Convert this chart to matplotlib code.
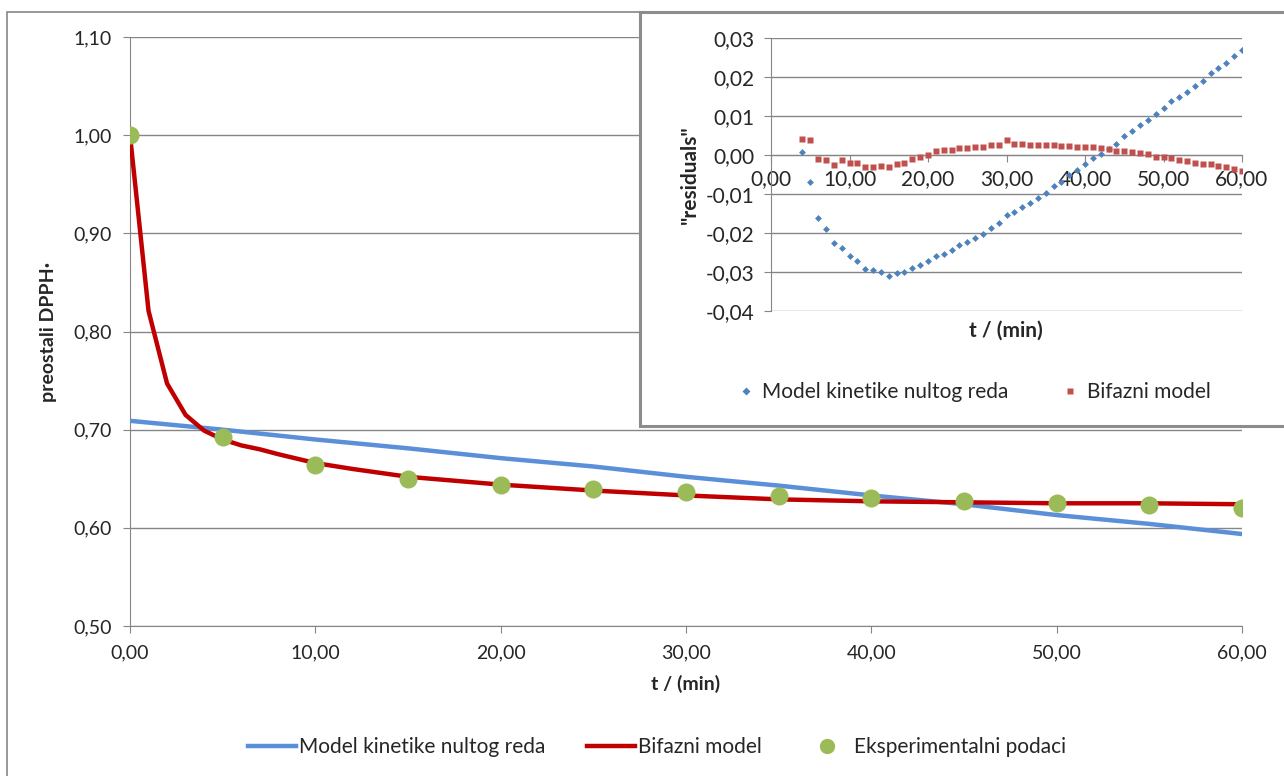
import matplotlib
matplotlib.use("Agg")
import matplotlib.pyplot as plt
from matplotlib.patches import Rectangle
from matplotlib.lines import Line2D
from matplotlib.ticker import FuncFormatter, MultipleLocator

plt.rcParams['font.family'] = ['Lato', 'DejaVu Sans']

# glavni graf: preostali DPPH u vremenu
t_exp = [0, 5, 10, 15, 20, 25, 30, 35, 40, 45, 50, 55, 60]
y_exp = [1.000, 0.693, 0.664, 0.650, 0.6436, 0.6395, 0.6365, 0.632, 0.630, 0.627, 0.625, 0.623, 0.6205]

t_nult = [0, 5, 10, 15, 20, 25, 30, 35, 40, 45, 50, 55, 60]
y_nult = [0.709, 0.700, 0.690, 0.681, 0.671, 0.6625, 0.652, 0.643, 0.633, 0.624, 0.613, 0.604, 0.5937]

t_bif = [0, 1, 2, 3, 4, 5, 6, 7, 8, 10, 12, 15, 20, 25, 30, 35, 40, 45, 50, 55, 60]
y_bif = [1.000, 0.821, 0.747, 0.715, 0.699, 0.690, 0.684, 0.680, 0.675, 0.666, 0.660, 0.652,
         0.644, 0.638, 0.633, 0.629, 0.627, 0.626, 0.625, 0.625, 0.624]

# ostaci (residuals), t = 4..60 min
t_res = list(range(4, 61))
res_nult = [0.0007, -0.0070, -0.0162, -0.0191, -0.0225, -0.0238, -0.0259, -0.0273, -0.0292, -0.0295,
            -0.0301, -0.0309, -0.0303, -0.0301, -0.0291, -0.0282, -0.0273, -0.0259, -0.0254, -0.0244,
            -0.0232, -0.0223, -0.0212, -0.0203, -0.0187, -0.0175, -0.0154, -0.0147, -0.0133, -0.0122,
            -0.0109, -0.0097, -0.0079, -0.0068, -0.0051, -0.0038, -0.0024, -0.0008, 0.0003, 0.0015,
            0.0028, 0.0049, 0.0062, 0.0077, 0.0090, 0.0104, 0.0121, 0.0138, 0.0148, 0.0162,
            0.0176, 0.0190, 0.0210, 0.0223, 0.0236, 0.0254, 0.0269]
res_bif = [0.0041, 0.0038, -0.0010, -0.0013, -0.0025, -0.0013, -0.0021, -0.0021, -0.0032, -0.0030,
           -0.0027, -0.0032, -0.0024, -0.0021, -0.0010, -0.0005, 0.0001, 0.0009, 0.0013, 0.0013,
           0.0018, 0.0018, 0.0021, 0.0021, 0.0026, 0.0026, 0.0038, 0.0029, 0.0029, 0.0026,
           0.0026, 0.0026, 0.0026, 0.0024, 0.0024, 0.0021, 0.0021, 0.0021, 0.0019, 0.0015,
           0.0010, 0.0010, 0.0008, 0.0004, 0.0002, -0.0004, -0.0004, -0.0007, -0.0012, -0.0015,
           -0.0021, -0.0024, -0.0024, -0.0029, -0.0032, -0.0035, -0.0040]

plavo = '#5b8fd8'
crveno = '#c00000'
zeleno = '#9bbb59'
siva = '#868686'
tekst = '#262626'
fs = 14
fs2 = 15

zarez = FuncFormatter(lambda v, pos: f"{v:.2f}".replace('.', ','))

fig = plt.figure(figsize=(12.84, 7.76), dpi=100)

# okvir oko cijelog grafa
fig.add_artist(Rectangle((7 / 1284, -0.01), 1.2, 1 - 12 / 776 + 0.01, transform=fig.transFigure,
                         fill=False, edgecolor=siva, lw=1.2, zorder=0))

ax = fig.add_axes([130 / 1284, 1 - 626 / 776, 1112 / 1284, 589 / 776])
ax.plot(t_nult, y_nult, color=plavo, lw=3.2, zorder=3)
ax.plot(t_bif, y_bif, color=crveno, lw=3.2, zorder=4)
ax.plot(t_exp, y_exp, 'o', color=zeleno, ms=13, mec='none', zorder=5)
ax.set_xlim(0, 60)
ax.set_ylim(0.5, 1.1)
ax.xaxis.set_major_locator(MultipleLocator(10))
ax.yaxis.set_major_locator(MultipleLocator(0.1))
ax.xaxis.set_major_formatter(zarez)
ax.yaxis.set_major_formatter(zarez)
ax.grid(axis='y', color=siva, lw=1)
ax.set_axisbelow(True)
for s in ['top', 'right']:
    ax.spines[s].set_visible(False)
for s in ['left', 'bottom']:
    ax.spines[s].set_color(siva)
ax.tick_params(axis='both', colors=siva, labelcolor=tekst, labelsize=fs, length=5, direction='out')
ax.tick_params(axis='x', pad=8)
ax.tick_params(axis='y', pad=8)
ax.set_xlabel('t / (min)', fontsize=fs, fontweight='bold', color=tekst, labelpad=10)
ax.set_ylabel('preostali DPPH·', fontsize=fs, fontweight='bold', color=tekst, labelpad=12)

handles = [Line2D([], [], color=plavo, lw=3.2),
           Line2D([], [], color=crveno, lw=3.2),
           Line2D([], [], ls='none', marker='o', color=zeleno, ms=11, mec='none')]
fig.legend(handles, ['Model kinetike nultog reda', 'Bifazni model', 'Eksperimentalni podaci'],
           loc='center', bbox_to_anchor=(657 / 1284, 1 - 747 / 776), ncol=3, frameon=False,
           fontsize=15, handlelength=2.3, handletextpad=0.15, columnspacing=2.0, labelcolor=tekst)

# umetnuti graf s ostacima
fig.add_artist(Rectangle((640 / 1284, 1 - 426 / 776), 0.6, 414 / 776, transform=fig.transFigure,
                         facecolor='white', edgecolor='#8c8c8c', lw=2.2, zorder=1))

ax2 = fig.add_axes([771 / 1284, 1 - 311 / 776, 471 / 1284, 273 / 776], zorder=2)
ax2.plot(t_res, res_nult, 'D', color='#4f81bd', ms=3.5, mec='none', zorder=3)
ax2.plot(t_res, res_bif, 's', color='#c0504d', ms=4.5, mec='none', zorder=3)
ax2.set_xlim(0, 60)
ax2.set_ylim(-0.04, 0.03)
ax2.xaxis.set_major_locator(MultipleLocator(10))
ax2.yaxis.set_major_locator(MultipleLocator(0.01))
ax2.xaxis.set_major_formatter(zarez)
ax2.yaxis.set_major_formatter(zarez)
ax2.grid(axis='y', color=siva, lw=1)
ax2.set_axisbelow(True)
ax2.spines['top'].set_visible(False)
ax2.spines['right'].set_visible(False)
ax2.spines['left'].set_color(siva)
ax2.spines['bottom'].set_color(siva)
ax2.spines['bottom'].set_position(('data', 0))
ax2.tick_params(axis='both', colors=siva, labelcolor=tekst, labelsize=fs2, length=5, direction='out')
ax2.tick_params(axis='x', pad=5)
ax2.tick_params(axis='y', pad=7)
ax2.set_ylabel('"residuals"', fontsize=fs2, fontweight='bold', color=tekst, labelpad=4)
fig.text(1006 / 1284, 1 - 331 / 776, 't / (min)', fontsize=fs2, fontweight='bold', color=tekst,
         ha='center', va='center')

h2 = [Line2D([], [], ls='none', marker='D', color='#4f81bd', ms=4, mec='none'),
      Line2D([], [], ls='none', marker='s', color='#c0504d', ms=5, mec='none')]
leg2 = fig.legend(h2, ['Model kinetike nultog reda', 'Bifazni model'], loc='center',
                  bbox_to_anchor=(974 / 1284, 1 - 392 / 776), ncol=2, frameon=False,
                  fontsize=fs2, handlelength=0.8, handletextpad=0.4, columnspacing=2.56,
                  labelcolor=tekst)
leg2.set_zorder(3)

fig.savefig('out.png', dpi=100, facecolor='white')
